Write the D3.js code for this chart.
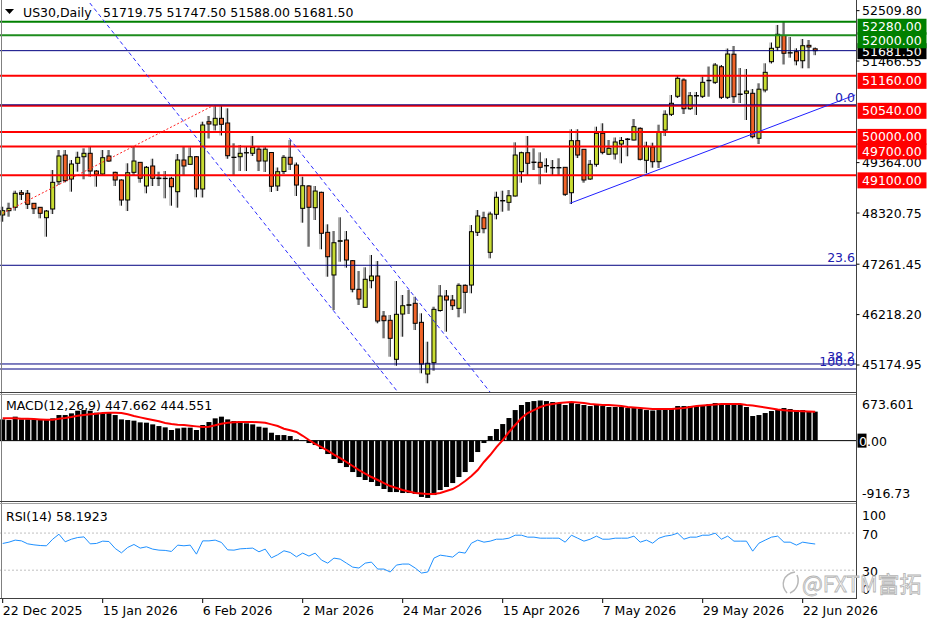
<!DOCTYPE html>
<html>
<head>
<meta charset="utf-8">
<script src="https://cdnjs.cloudflare.com/ajax/libs/d3/7.8.5/d3.min.js"></script>
<style>
  body { margin: 0; background: #fff; }
  svg { display: block; }
</style>
</head>
<body>
<div id="chart"></div>
<script>
// trading days shown on the chart
const dates = [
  "2025-12-22","2025-12-23","2025-12-24","2025-12-26","2025-12-29","2025-12-30","2025-12-31",
  "2026-01-02","2026-01-05","2026-01-06","2026-01-07","2026-01-08","2026-01-09","2026-01-12","2026-01-13","2026-01-14",
  "2026-01-15","2026-01-16","2026-01-19","2026-01-20","2026-01-21","2026-01-22","2026-01-23","2026-01-26","2026-01-27",
  "2026-01-28","2026-01-29","2026-01-30",
  "2026-02-02","2026-02-03","2026-02-04","2026-02-05","2026-02-06","2026-02-09","2026-02-10","2026-02-11","2026-02-12",
  "2026-02-13","2026-02-16","2026-02-17","2026-02-18","2026-02-19","2026-02-20","2026-02-23","2026-02-24","2026-02-25",
  "2026-02-26","2026-02-27",
  "2026-03-02","2026-03-03","2026-03-04","2026-03-05","2026-03-06","2026-03-09","2026-03-10","2026-03-11","2026-03-12",
  "2026-03-13","2026-03-16","2026-03-17","2026-03-18","2026-03-19","2026-03-20","2026-03-23","2026-03-24","2026-03-25",
  "2026-03-26","2026-03-27","2026-03-30","2026-03-31",
  "2026-04-01","2026-04-02","2026-04-03","2026-04-06","2026-04-07","2026-04-08","2026-04-09","2026-04-10","2026-04-13",
  "2026-04-14","2026-04-15","2026-04-16","2026-04-17","2026-04-20","2026-04-21","2026-04-22","2026-04-23","2026-04-24",
  "2026-04-27","2026-04-28","2026-04-29","2026-04-30",
  "2026-05-01","2026-05-04","2026-05-05","2026-05-06","2026-05-07","2026-05-08","2026-05-11","2026-05-12","2026-05-13",
  "2026-05-14","2026-05-15","2026-05-18","2026-05-19","2026-05-20","2026-05-21","2026-05-22","2026-05-25","2026-05-26",
  "2026-05-27","2026-05-28","2026-05-29",
  "2026-06-01","2026-06-02","2026-06-03","2026-06-04","2026-06-05","2026-06-08","2026-06-09","2026-06-10","2026-06-11",
  "2026-06-12","2026-06-15","2026-06-16","2026-06-17","2026-06-18","2026-06-19","2026-06-22","2026-06-23","2026-06-24"
];

const opens = [
  48280,48369,48439,48741,48729,48522,48439,48224,48404,48969,
  49521,49025,49350,49486,49557,49190,49128,49501,49163,49004,
  48590,49163,49370,48880,49294,49045,49039,49039,48762,49418,
  49329,49486,48818,50211,50143,50281,50184,49470,49486,49567,
  49557,49642,49397,49573,48880,49180,49474,49315,48418,48880,
  48431,48749,47921,47038,47735,47762,47334,46742,46369,46920,
  47017,46189,46100,45293,46230,46410,46452,46058,44988,45222,
  46303,46603,46520,46348,46824,46830,47921,48224,47507,48294,
  48580,48542,48673,49176,49569,49366,49370,49296,49255,49255,
  49267,48741,49818,49640,49025,49329,49971,49538,49542,49749,
  49842,49832,50074,49412,49687,49383,50039,50364,50737,51074,
  50480,50743,50737,51059,51026,51349,50716,51608,50774,50799,
  50799,49867,50867,51453,51751,51995,51639,51660,51473,51792,51719.75
];
const highs = [
  48451,48534,48783,48797,48797,48528,48445,48383,49211,49625,
  49625,49418,49590,49660,49708,49211,49625,49625,49176,49019,
  49350,49693,49377,49294,49445,49176,49190,49072,49542,49708,
  49681,49501,50211,50329,50536,50536,50488,49764,49729,49708,
  49915,49687,49708,49584,49263,49521,49832,49366,49072,48900,
  48880,48762,48087,47948,48232,47948,47348,47120,47197,47452,
  47327,46292,46210,46913,46624,46727,46588,46245,45657,46381,
  46830,46727,46624,46866,46845,48072,48383,48348,48348,48762,
  48783,48797,49784,49590,49915,49660,49577,49453,49418,49453,
  49273,50054,50054,49646,49418,50108,50178,49832,49884,49894,
  49873,50267,50095,49797,49776,50149,50447,50764,51167,51109,
  50826,50826,51146,51353,51426,51384,51726,51778,51322,51302,
  50888,51006,51420,51850,52213,52289,51964,51730,51923,51902,51747.5
];
const lows = [
  48141,48244,48369,48590,48404,48300,48211,47830,48300,48900,
  48956,48762,49176,49019,49072,48865,49108,49377,48880,48472,
  48362,49108,48948,48729,48880,48880,48625,48472,48431,49108,
  49325,48646,48642,49863,50029,49925,49443,49087,49190,49190,
  49501,49190,49170,48756,48776,49128,49211,48673,48120,47623,
  48176,47570,47002,46313,47313,47189,46679,46417,46365,46762,
  46038,45727,45346,45160,45760,46230,45899,45003,44796,45056,
  46278,45864,46313,46162,46245,46659,47845,47901,47383,48190,
  48348,48369,48662,48948,49087,49211,48915,49155,49087,49087,
  48673,48507,49459,48948,49004,49280,49536,49521,49428,49350,
  49495,49822,49408,49143,49259,49252,49915,50329,50701,50370,
  50453,50350,50701,50728,50991,50681,50681,50598,50598,50246,
  49867,49749,50819,51416,51674,51395,51536,51378,51316,51316,51588
];
const closes = [
  48369,48418,48729,48708,48501,48410,48315,48362,48956,49501,
  48990,49335,49474,49557,49190,49122,49466,49397,49004,48590,
  49155,49397,49039,49267,49039,49033,49035,48865,49418,49294,
  49486,48818,50143,50163,50281,50157,49507,49476,49557,49571,
  49681,49397,49642,48874,49176,49474,49331,48900,48886,48439,
  48776,47901,47416,47706,47748,47348,46742,46541,46949,47017,
  46085,46092,45727,46224,46402,46423,46038,45195,45210,46327,
  46603,46520,46402,46824,46679,47934,48259,47996,48300,48646,
  48571,48679,49521,49569,49350,49375,49267,49304,49263,49263,
  48708,49818,49521,49004,49329,49971,49577,49660,49791,49822,
  49852,50108,49433,49702,49383,49991,50364,50592,51109,50480,
  50749,50753,51026,51068,51384,50716,51612,50728,50784,50846,
  49900,50884,51233,51730,52020,51627,51635,51471,51784,51757,51681.5
];

// MACD(12,26,9): histogram (main) and signal line
const macdMain = [
  328,318,370,328,328,328,318,318,344,395,395,421,462,472,462,431,421,431,395,328,
  318,308,282,277,251,225,205,164,189,200,200,164,241,287,344,370,328,303,303,267,
  251,215,200,122,86,86,71,20,
  -6,-37,-68,-130,-207,-284,-346,-408,-485,-562,-608,-639,-701,-747,-794,-794,-809,-809,-824,-870,-885,
  -840,-763,-716,-655,-562,-485,-330,-176,-37,71,179,256,349,472,550,596,611,620,611,596,581,550,581,565,
  550,534,550,534,519,519,519,503,503,488,472,465,472,488,503,534,534,534,534,550,565,581,565,581,581,
  565,519,380,395,426,457,488,503,488,472,472,457,447.662
];
const macdSignal = [
  344,344,344,339,339,333,328,323,323,339,349,364,385,395,406,416,426,431,431,426,
  406,380,359,339,318,298,272,256,246,241,231,220,210,215,236,261,277,282,287,287,
  287,282,277,251,225,184,159,133,
  75,10,-50,-99,-153,-215,-269,-330,-392,-454,-508,-562,-608,-655,-701,-732,-763,-786,-809,-817,-825,
  -825,-809,-778,-747,-693,-624,-547,-454,-330,-222,-99,9,133,241,349,426,472,519,550,565,581,588,596,588,
  581,565,557,550,550,542,534,519,511,503,496,488,488,488,488,496,503,519,534,542,550,557,565,565,565,565,
  550,542,527,511,496,480,470,462,456,452,448,444.551
];
// RSI(14)
const rsi = [
  58.8,60.2,62.4,61.6,58.4,57.3,56.6,56.3,63.4,68.8,60.6,63.4,65.2,65.9,58.4,58.8,61.3,60.9,53.4,48.7,
  54.5,57.7,53.8,55.2,52.7,51.6,51.3,50.2,57,56.3,57,47.3,61.6,61.6,62.4,59.9,51.9,51.6,53,53.4,
  53.8,49.8,52.7,43.3,46.6,50.9,49.1,44.4,
  48.4,45.2,48.4,40.9,37.6,43,41.9,37.6,33.3,32.3,37.6,38.7,31.2,31.2,28,35.5,36.6,36.6,32.3,26.9,28,
  43,46.2,45.2,44.1,49.5,48.4,59.1,62.4,60.2,61.3,63.4,63.4,64.5,67.7,67.7,65.6,65.6,64.5,64.5,64.5,
  64.5,60.2,67.7,64.5,61.3,63.4,66.7,63.4,63.4,64.5,64.5,64.5,66.7,60.2,62.4,59.1,64.5,66.7,67.7,69.9,
  63.4,65.6,65.6,67.7,67.7,69.9,63.4,66.7,61.3,61.3,61.3,50.5,59.1,62.4,65.6,66.7,60.2,60.2,57,60.2,59.1,58.1923
];

// horizontal levels and axis labels
const greenLevels = [52280, 52000];
const redLevels = [51160, 50540, 50000, 49700, 49100];
const lastPrice = 51681.5;
const priceTicks = [52509.80, 51466.55, 49364.00, 48320.75, 47261.45, 46218.20, 45174.95];
const fibNames = ["0.0", "23.6", "38.2", "100.0"];
const fibPrices = [50560, 47239, 45196, 45092];
const macdTicks = [673.601, -916.73];
const rsiTicks = [100, 70, 30, 0];
// trend lines as [bar index, price]
const channelA = [[13.94, 52668], [63.22, 44616]];
const channelB = [[45.86, 49867], [77.97, 44616]];
const redTrend = [[0, 48315], [33.7, 50546]];
const blueTrend = [[90.77, 48522], [136.4, 50764]];

const W = 936, H = 624, axisX = 856.5;
const fmt = d3.format(".2f");
const parse = d3.timeParse("%Y-%m-%d"), dfmt = d3.timeFormat("%-d %b %Y");

const svg = d3.select("#chart").append("svg")
  .attr("width", W).attr("height", H)
  .style("font-family", '"DejaVu Sans", sans-serif')
  .style("font-size", "12.5px");

const x = d3.scaleLinear().domain([0, 128]).range([2.7, 802.7]);
const y = d3.scaleLinear().domain([44616, 52668]).range([392, 3]);
const yM = d3.scaleLinear().domain([-916.73, 673.601]).range([500, 397]);
const yR = d3.scaleLinear().domain([0, 100]).range([598, 505.25]);

const defs = svg.append("defs");
defs.append("clipPath").attr("id", "cMain").append("rect").attr("x", 0).attr("y", 0).attr("width", 856).attr("height", 392);
defs.append("clipPath").attr("id", "cMacd").append("rect").attr("x", 0).attr("y", 394).attr("width", 856).attr("height", 108);
defs.append("clipPath").attr("id", "cRsi").append("rect").attr("x", 0).attr("y", 503).attr("width", 856).attr("height", 95);

const bars = dates.map((d, i) => ({ i, o: opens[i], h: highs[i], l: lows[i], c: closes[i] }));

// ---------- main panel ----------
const gm = svg.append("g").attr("clip-path", "url(#cMain)");

// candles
gm.selectAll("line.sh").data(bars).join("line")
  .attr("x1", d => x(d.i) - 1.5).attr("x2", d => x(d.i) - 1.5)
  .attr("y1", d => y(d.h)).attr("y2", d => y(d.l))
  .attr("stroke", "#a0a0a0").attr("stroke-width", 1);
gm.selectAll("line.wk").data(bars).join("line")
  .attr("x1", d => x(d.i)).attr("x2", d => x(d.i))
  .attr("y1", d => y(d.h)).attr("y2", d => y(d.l))
  .attr("stroke", "#000").attr("stroke-width", 1);
gm.selectAll("rect.body").data(bars).join("rect")
  .attr("x", d => x(d.i) - 2).attr("width", 4)
  .attr("y", d => y(Math.max(d.o, d.c)))
  .attr("height", d => Math.max(0.3, Math.abs(y(d.o) - y(d.c))))
  .attr("fill", d => d.c >= d.o ? "#c8dc32" : "#f06428")
  .attr("stroke", "#000").attr("stroke-width", 1);

// level lines
const hline = (p, col, w) => gm.append("line")
  .attr("x1", 0).attr("x2", 856).attr("y1", y(p)).attr("y2", y(p))
  .attr("stroke", col).attr("stroke-width", w);
greenLevels.forEach((p, k) => hline(p, k === 0 ? "#008000" : "#1e8c1e", 2));
hline(lastPrice, "#000080", 1);
redLevels.forEach(p => hline(p, "#ff0000", 2));
fibPrices.forEach(p => hline(p, "#000080", 1));

// trend lines
const tl = d3.line().x(d => x(d[0])).y(d => y(d[1]));
gm.append("path").attr("d", tl(channelA)).attr("fill", "none").attr("stroke", "#2b2bff").attr("stroke-dasharray", "4,3");
gm.append("path").attr("d", tl(channelB)).attr("fill", "none").attr("stroke", "#2b2bff").attr("stroke-dasharray", "4,3");
gm.append("path").attr("d", tl(redTrend)).attr("fill", "none").attr("stroke", "#ff2020").attr("stroke-dasharray", "2,2");
gm.append("path").attr("d", tl(blueTrend)).attr("fill", "none").attr("stroke", "#2020ff");

// fib labels
svg.selectAll("text.fib").data(fibNames).join("text")
  .attr("x", 855).attr("y", (d, k) => y(fibPrices[k]) - 3)
  .attr("text-anchor", "end").attr("fill", "#2020b0").text(d => d);

// header
svg.append("path").attr("d", "M5,9 L14,9 L9.5,14 Z").attr("fill", "#000");
svg.append("text").attr("x", 23).attr("y", 17).text("US30,Daily");
svg.append("text").attr("x", 103).attr("y", 17).text([opens[130], highs[130], lows[130], closes[130]].map(fmt).join(" "));

// ---------- MACD panel ----------
const gd = svg.append("g").attr("clip-path", "url(#cMacd)");
gd.append("line").attr("x1", 0).attr("x2", 856).attr("y1", yM(0)).attr("y2", yM(0)).attr("stroke", "#000");
gd.selectAll("rect").data(macdMain).join("rect")
  .attr("x", (d, i) => x(i) - 2.5).attr("width", 5)
  .attr("y", d => Math.min(yM(0), yM(d)))
  .attr("height", d => Math.abs(yM(d) - yM(0)))
  .attr("fill", "#000");
gd.append("path").datum(macdSignal)
  .attr("d", d3.line().x((d, i) => x(i)).y(d => yM(d)))
  .attr("fill", "none").attr("stroke", "#ff0000").attr("stroke-width", 2);
svg.append("text").attr("x", 6).attr("y", 410)
  .text(`MACD(12,26,9) ${macdMain[130].toFixed(3)} ${macdSignal[130].toFixed(3)}`);

// ---------- RSI panel ----------
const gr = svg.append("g").attr("clip-path", "url(#cRsi)");
[70, 30].forEach(v => gr.append("line").attr("x1", 0).attr("x2", 856)
  .attr("y1", yR(v)).attr("y2", yR(v)).attr("stroke", "#c0c0c0").attr("stroke-dasharray", "2,2"));
gr.append("path").datum(rsi)
  .attr("d", d3.line().x((d, i) => x(i)).y(d => yR(d)))
  .attr("fill", "none").attr("stroke", "#1e90ff").attr("stroke-width", 1);
svg.append("text").attr("x", 6).attr("y", 521).text(`RSI(14) ${rsi[130].toFixed(4)}`);

// ---------- frames ----------
const fr = (x1, y1, x2, y2, c) => svg.append("line").attr("x1", x1).attr("y1", y1).attr("x2", x2).attr("y2", y2).attr("stroke", c);
fr(1.5, 0, 1.5, 599, "#808080");
fr(axisX, 0, axisX, 599, "#404040");
fr(0, 392.5, 856, 392.5, "#404040");
fr(0, 394.5, 856, 394.5, "#a0a0a0");
fr(0, 501.5, 856, 501.5, "#404040");
fr(0, 503.5, 856, 503.5, "#a0a0a0");
fr(0, 598.5, 856, 598.5, "#404040");

// ---------- price axis ----------
const ax = svg.append("g");
ax.selectAll("line").data(priceTicks).join("line")
  .attr("x1", axisX).attr("x2", axisX + 3).attr("y1", d => y(d)).attr("y2", d => y(d)).attr("stroke", "#000");
ax.selectAll("text").data(priceTicks).join("text")
  .attr("x", 862).attr("y", d => y(d)).attr("dy", "0.36em").text(fmt);

const boxLabel = (p, bg, dyc) => {
  const yc = y(p) + dyc;
  svg.append("rect").attr("x", 857.5).attr("y", yc - 8).attr("width", 69).attr("height", 16).attr("fill", bg);
  svg.append("text").attr("x", 862).attr("y", yc).attr("dy", "0.36em").attr("fill", "#fff").text(fmt(p));
};
boxLabel(lastPrice, "#000", 0.5);
greenLevels.forEach(p => boxLabel(p, "#008000", 5));
redLevels.forEach(p => boxLabel(p, "#ff0000", 5));

// MACD axis
svg.append("text").attr("x", 862).attr("y", 404).attr("dy", "0.36em").text(macdTicks[0]);
svg.append("text").attr("x", 862).attr("y", 493).attr("dy", "0.36em").text(macdTicks[1]);
svg.append("rect").attr("x", 857.5).attr("y", yM(0) - 7).attr("width", 9).attr("height", 14).attr("fill", "#000");
const zt = svg.append("text").attr("x", 859).attr("y", yM(0) + 1).attr("dy", "0.36em");
zt.append("tspan").attr("fill", "#fff").text("0");
zt.append("tspan").text(".00");

// RSI axis
svg.selectAll("text.rt").data(rsiTicks).join("text")
  .attr("x", 862)
  .attr("y", d => d === 100 ? yR(d) + 10 : d === 0 ? yR(d) - 9 : yR(d) + 1)
  .attr("dy", "0.36em").text(d => d);

// ---------- time axis ----------
const tIdx = d3.range(0, dates.length, 16);
svg.selectAll("line.tt").data(tIdx).join("line")
  .attr("x1", d => x(d)).attr("x2", d => x(d)).attr("y1", 599).attr("y2", 603).attr("stroke", "#000");
svg.selectAll("text.tl").data(tIdx).join("text")
  .attr("x", d => x(d)).attr("y", 615).text(d => dfmt(parse(dates[d])));

// ---------- watermark ----------
svg.append("path").attr("d", "M787,593 C780,585 783,574 795,572 M790,593 C797,590 800,582 797,575")
  .attr("fill", "none").attr("stroke", "#b8b8b8").attr("stroke-width", 1.5);
svg.append("text").attr("x", 802).attr("y", 592)
  .style("font-family", '"Noto Sans CJK SC", sans-serif').style("font-size", "22px")
  .attr("fill", "#f4f4f4").attr("stroke", "#b4b4b4").attr("stroke-width", 0.8)
  .text("@FXTM富拓");
</script>
</body>
</html>
